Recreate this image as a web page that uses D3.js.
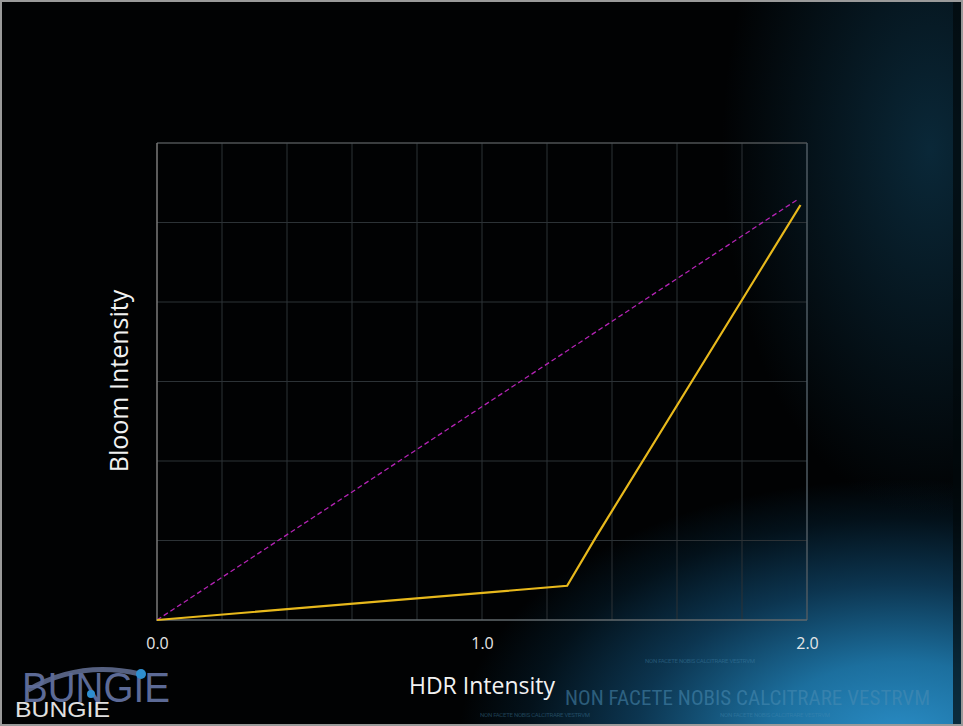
<!DOCTYPE html>
<html><head><meta charset="utf-8">
<script src="https://cdn.jsdelivr.net/npm/d3@7"></script>
<style>html,body{margin:0;padding:0;background:#000;}svg{display:block;}</style>
</head><body>
<svg id="c" width="963" height="726"></svg>
<script>
// ---- data ----
const xTickValues = [0, 1, 2];
const xTickLabels = ["0.0", "1.0", "2.0"];
const linearX = [0, 1.975];
const linearY = [0, 1.06];
const bloomX = [0, 1.262, 1.35, 1.98];
const bloomY = [0, 0.086, 0.208, 1.044];
const xTitle = "HDR Intensity";
const yTitle = "Bloom Intensity";

const W = 963, H = 726;
const svg = d3.select("#c");
const defs = svg.append("defs");

// background
const g1 = defs.append("radialGradient").attr("id","bgBlue").attr("gradientUnits","userSpaceOnUse")
  .attr("cx",900).attr("cy",740).attr("r",420)
  .attr("gradientTransform","translate(900,740) scale(1.05,0.62) translate(-900,-740)");
g1.append("stop").attr("offset",0).attr("stop-color","#2a8dc6");
g1.append("stop").attr("offset",0.3).attr("stop-color","#1c6f9e");
g1.append("stop").attr("offset",0.6).attr("stop-color","#0c3550");
g1.append("stop").attr("offset",0.85).attr("stop-color","#03111a");
g1.append("stop").attr("offset",1).attr("stop-color","#010203");
const g2 = defs.append("radialGradient").attr("id","bgTop").attr("gradientUnits","userSpaceOnUse")
  .attr("cx",930).attr("cy",150).attr("r",260)
  .attr("gradientTransform","translate(930,150) scale(0.8,1.4) translate(-930,-150)");
g2.append("stop").attr("offset",0).attr("stop-color","#0b2c3e").attr("stop-opacity",0.9);
g2.append("stop").attr("offset",1).attr("stop-color","#0b2c3e").attr("stop-opacity",0);

svg.append("rect").attr("width",W).attr("height",H).attr("fill","#020305");
svg.append("rect").attr("width",W).attr("height",H).attr("fill","url(#bgBlue)");
svg.append("rect").attr("width",W).attr("height",H).attr("fill","url(#bgTop)");
// right dark edge
svg.append("rect").attr("x",953).attr("y",0).attr("width",10).attr("height",H).attr("fill","#02080c").attr("opacity",0.7);
// border
svg.append("rect").attr("x",1).attr("y",1).attr("width",W-2).attr("height",H-2)
  .attr("fill","none").attr("stroke","#9a9a9a").attr("stroke-width",2);

// scales
const x = d3.scaleLinear().domain([0,2]).range([157,807]);
const y = d3.scaleLinear().domain([0,1.2]).range([620,143]);

const grid = svg.append("g");
grid.selectAll("line.v").data(d3.range(1,10).map(i=>i*0.2)).join("line")
  .attr("x1",d=>x(d)).attr("x2",d=>x(d)).attr("y1",y(1.2)).attr("y2",y(0))
  .attr("stroke","#2c3236").attr("stroke-width",1);
grid.selectAll("line.h").data(d3.range(1,6).map(i=>i*0.2)).join("line")
  .attr("y1",d=>y(d)).attr("y2",d=>y(d)).attr("x1",x(0)).attr("x2",x(2))
  .attr("stroke","#2c3236").attr("stroke-width",1);
// frame
svg.append("line").attr("x1",x(0)).attr("x2",x(2)).attr("y1",y(1.2)).attr("y2",y(1.2)).attr("stroke","#4e5254").attr("stroke-width",1.5);
svg.append("line").attr("x1",x(2)).attr("x2",x(2)).attr("y1",y(1.2)).attr("y2",y(0)).attr("stroke","#4e5a62").attr("stroke-width",1.5);
svg.append("line").attr("x1",x(0)).attr("x2",x(0)).attr("y1",y(1.2)).attr("y2",y(0)+1).attr("stroke","#7a7a7a").attr("stroke-width",1.5);
svg.append("line").attr("x1",x(0)).attr("x2",x(2)).attr("y1",y(0)).attr("y2",y(0)).attr("stroke","#60686c").attr("stroke-width",1.5);

// x axis labels
const ax = d3.axisBottom(x).tickValues(xTickValues).tickFormat((d,i)=>xTickLabels[i]).tickSize(0).tickPadding(18);
const axg = svg.append("g").attr("transform",`translate(0,${y(0)})`).call(ax);
axg.select(".domain").remove();
axg.selectAll("text").attr("fill","#e6e6e6").style("font-family","'Open Sans', sans-serif").style("font-size","16px");

// lines
const line = d3.line().x(d=>x(d[0])).y(d=>y(d[1]));
svg.append("path").datum(linearX.map((v,i)=>[v,linearY[i]])).attr("d",line)
  .attr("fill","none").attr("stroke","#b424b4").attr("stroke-width",1.3).attr("stroke-dasharray","5,3");
svg.append("path").datum(bloomX.map((v,i)=>[v,bloomY[i]])).attr("d",line)
  .attr("fill","none").attr("stroke","#e8b91c").attr("stroke-width",2.2).attr("stroke-linejoin","miter");

// titles
svg.append("text").attr("x",482).attr("y",694).attr("text-anchor","middle").attr("fill","#f2f2f2")
  .style("font-family","'Open Sans', sans-serif").style("font-size","23px").text(xTitle);
svg.append("text").attr("transform","translate(128,381) rotate(-90)").attr("text-anchor","middle").attr("fill","#f2f2f2")
  .style("font-family","'Open Sans', sans-serif").style("font-size","25px").text(yTitle);

// watermark
svg.append("text").attr("x",565).attr("y",705).attr("fill","#4b8db4").attr("opacity",0.55)
  .style("font-family","'Liberation Sans Narrow','Roboto Condensed',Roboto,sans-serif").style("font-size","21px")
  .attr("textLength",365).text("NON FACETE NOBIS CALCITRARE VESTRVM");
svg.append("text").attr("x",645).attr("y",663).attr("fill","#4b8db4").attr("opacity",0.4)
  .style("font-family","Roboto,sans-serif").style("font-size","6px").attr("textLength",110).text("NON FACETE NOBIS CALCITRARE VESTRVM");
svg.append("text").attr("x",480).attr("y",717).attr("fill","#4b8db4").attr("opacity",0.4)
  .style("font-family","Roboto,sans-serif").style("font-size","6px").attr("textLength",110).text("NON FACETE NOBIS CALCITRARE VESTRVM");
svg.append("text").attr("x",720).attr("y",717).attr("fill","#4b8db4").attr("opacity",0.4)
  .style("font-family","Roboto,sans-serif").style("font-size","6px").attr("textLength",110).text("NON FACETE NOBIS CALCITRARE VESTRVM");

// logo
const logo = svg.append("g");
logo.append("path").attr("d","M 28 690 Q 80 660 140 674").attr("fill","none").attr("stroke","#6a78a0").attr("stroke-width",5).attr("opacity",0.8);
logo.append("text").attr("x",22).attr("y",702).attr("fill","#5c6a96")
  .style("font-family","'Liberation Sans',Arial,sans-serif").style("font-size","42px").attr("textLength",148).attr("lengthAdjust","spacingAndGlyphs").text("BUNGIE");
logo.append("circle").attr("cx",141).attr("cy",674).attr("r",5).attr("fill","#2e8ed0");
logo.append("circle").attr("cx",91).attr("cy",694).attr("r",4).attr("fill","#2e8ed0");
logo.append("text").attr("x",15).attr("y",717).attr("fill","#e0e0e0")
  .style("font-family","'Liberation Sans',Arial,sans-serif").style("font-size","22px").attr("textLength",95).attr("lengthAdjust","spacingAndGlyphs").text("BUNGIE");
</script>
</body></html>
